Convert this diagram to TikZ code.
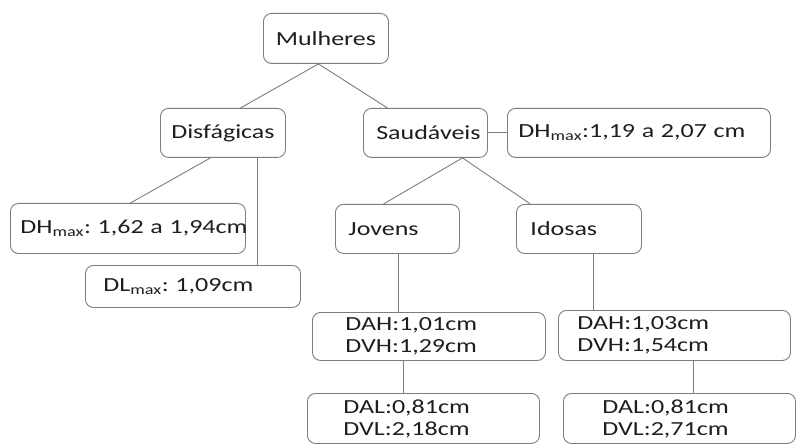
\documentclass[tikz,border=0pt]{standalone}
\usepackage{fontspec}
\setmainfont{Carlito}[FakeStretch=1.3]
\frenchspacing
\definecolor{edge}{RGB}{125,125,125}
\definecolor{ink}{RGB}{30,30,30}
\begin{document}
\begin{tikzpicture}[x=1pt,y=-1pt,
  bx/.style={draw=edge, rounded corners=8pt, line width=0.9pt, anchor=north west,
             inner ysep=0pt, text=ink, font=\fontsize{20}{22}\selectfont\frenchspacing},
  ln/.style={draw=edge, line width=0.9pt}]
\useasboundingbox (0,0) rectangle (799,446);
% level 0-1
\node[bx, text width=117pt, inner xsep=4pt, minimum height=50pt, align=center] (m) at (263,13) {Mulheres};
\node[bx, text width=117pt, inner xsep=4pt, minimum height=49pt, align=center] (d) at (160,108) {Disfágicas};
\node[bx, text width=116pt, inner xsep=4pt, minimum height=49pt, align=center] (s) at (363,108) {\hspace*{6pt}Saudáveis};
\node[bx, text width=241pt, inner xsep=11pt, minimum height=49pt, align=left] (dhr) at (507,108) {\mbox{DH\textsubscript{max}:1,19 a 2,07 cm}};
% Disfágicas children
\node[bx, text width=215pt, inner xsep=10pt, minimum height=50pt, align=left] (dhl) at (10,203) {\mbox{DH\textsubscript{max}: 1,62 a 1,94cm}};
\node[bx, text width=179pt, inner xsep=18pt, minimum height=42pt, align=left] (dl) at (85,265) {\mbox{DL\textsubscript{max}: 1,09cm}};
% Saudáveis children
\node[bx, text width=98pt, inner xsep=13pt, minimum height=49pt, align=left] (j) at (335,204) {Jovens};
\node[bx, text width=97pt, inner xsep=14pt, minimum height=49pt, align=left] (i) at (516,204) {Idosas};
\node[bx, text width=167pt, inner xsep=33pt, minimum height=48pt, align=left] (ja) at (312,312) {\mbox{DAH:1,01cm}\\\mbox{DVH:1,29cm}};
\node[bx, text width=194pt, inner xsep=19pt, minimum height=50pt, align=left] (ia) at (558,310) {\mbox{DAH:1,03cm}\\\mbox{DVH:1,54cm}};
\node[bx, text width=160pt, inner xsep=36pt, minimum height=50pt, align=left] (jl) at (307,393) {\mbox{DAL:0,81cm}\\\mbox{DVL:2,18cm}};
\node[bx, text width=154pt, inner xsep=39pt, minimum height=50pt, align=left] (il) at (563,393) {\mbox{DAL:0,81cm}\\\mbox{DVL:2,71cm}};
% connectors
\draw[ln] ([xshift=-7.5pt]m.south) -- ([xshift=17.5pt]d.north);
\draw[ln] ([xshift=-7.5pt]m.south) -- ([xshift=-38pt]s.north);
\draw[ln] (s.east) -- (dhr.west);
\draw[ln] ([xshift=-12.5pt]d.south) -- ([xshift=2.5pt]dhl.north);
\draw[ln] ([xshift=34.5pt]d.south) -- ([xshift=34.5pt]d.south |- dl.north);
\draw[ln] ([xshift=37pt]s.south) -- ([xshift=-14pt]j.north);
\draw[ln] ([xshift=37pt]s.south) -- ([xshift=-48.5pt]i.north);
\draw[ln] ([xshift=1pt]j.south) -- ([xshift=1pt]j.south |- ja.north);
\draw[ln] ([xshift=-25.5pt]ja.south) -- ([xshift=-25.5pt]ja.south |- jl.north);
\draw[ln] ([xshift=14.5pt]i.south) -- ([xshift=14.5pt]i.south |- ia.north);
\draw[ln] ([xshift=19pt]ia.south) -- ([xshift=19pt]ia.south |- il.north);
\end{tikzpicture}
\end{document}
